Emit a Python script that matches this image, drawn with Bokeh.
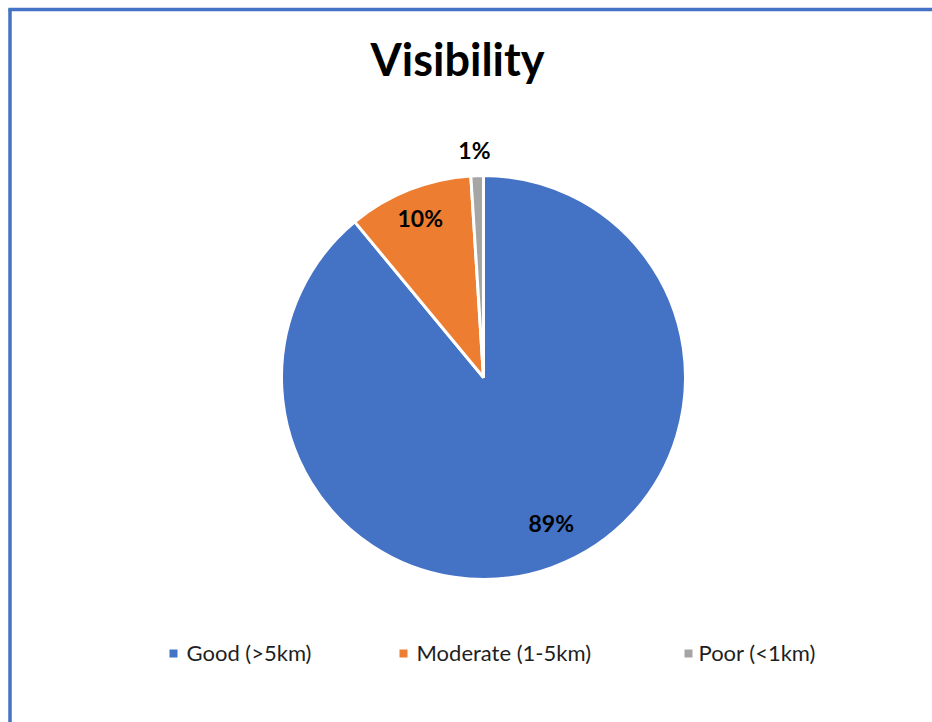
import math

from bokeh.core.properties import value
from bokeh.embed import file_html
from bokeh.models import ColumnDataSource, Range1d
from bokeh.plotting import figure
from bokeh.resources import INLINE

# Visibility shares (%)
categories = ["Good (>5km)", "Moderate (1-5km)", "Poor (<1km)"]
shares = [89, 10, 1]
colors = ["#4472C4", "#ED7D31", "#A5A5A5"]
title_text = "Visibility"

W, H = 932, 722
FONT = "Lato"

p = figure(width=W, height=H, output_backend="svg", toolbar_location=None,
           x_range=Range1d(0, W), y_range=Range1d(0, H), min_border=0,
           background_fill_color="white", border_fill_color="white")
p.axis.visible = False
p.grid.visible = False
p.outline_line_color = None

# pie geometry (screen-like units, y up)
cx, cy, R = 483, H - 377, 202

total = sum(shares)
starts, ends, mids = [], [], []
acc = 0.0
for v in shares:
    a0 = math.pi / 2 - acc / total * 2 * math.pi
    acc += v
    a1 = math.pi / 2 - acc / total * 2 * math.pi
    starts.append(a0)
    ends.append(a1)
    mids.append((a0 + a1) / 2)

src = ColumnDataSource(dict(cat=categories, share=shares, color=colors,
                            start=starts, end=ends))
p.wedge(x=cx, y=cy, radius=R, start_angle="start", end_angle="end",
        direction="clock", fill_color="color", line_color="white",
        line_width=3, source=src)

# data labels: inside for the large slices, outside for the small one
label_radius = [0.8, 0.85, 1.12]
label_nudge_x = [13, 0, -2]
label_nudge_y = [7, 0, 1]
lx = [cx + f * R * math.cos(m) + dx
      for f, m, dx in zip(label_radius, mids, label_nudge_x)]
ly = [cy + f * R * math.sin(m) + dy
      for f, m, dy in zip(label_radius, mids, label_nudge_y)]
p.text(x=lx, y=ly, text=[f"{v}%" for v in shares], text_font=value(FONT),
       text_font_style="bold", text_font_size="23px", text_color="#000000",
       text_align="center", text_baseline="middle")

# title
p.text(x=[457], y=[H - 58], text=[title_text], text_font=value(FONT),
       text_font_style="bold", text_font_size="45px", text_color="#000000",
       text_align="center", text_baseline="middle")

# legend row
marker_x = [173, 403, 688]
text_x = [186, 416, 698]
leg_y = H - 653
p.scatter(x=marker_x, y=[leg_y] * 3, marker="square", size=8,
          fill_color=colors, line_color=None)
p.text(x=text_x, y=[leg_y + 1] * 3, text=categories, text_font=value(FONT),
       text_font_size="22px", text_color="#1f1f1f",
       text_align="left", text_baseline="middle")

# chart frame edges
p.segment(x0=[9.5, 8], y0=[0, H - 9], x1=[9.5, W], y1=[H - 8, H - 9],
          line_color="#4472C4", line_width=3.5)

open("out.html", "w").write(file_html(p, INLINE))
